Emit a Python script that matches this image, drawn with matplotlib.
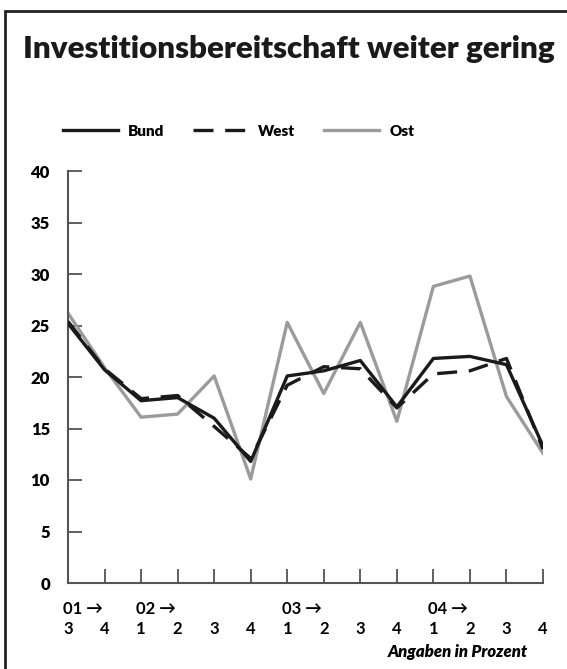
import matplotlib
matplotlib.use("Agg")
import matplotlib.pyplot as plt
from matplotlib.patches import Rectangle
import matplotlib.transforms as mtransforms

FONT = ["Lato", "DejaVu Sans"]
plt.rcParams["font.family"] = FONT

# data
quarters = ["3", "4", "1", "2", "3", "4", "1", "2", "3", "4", "1", "2", "3", "4"]
years = {0: "01 →", 2: "02 →", 6: "03 →", 10: "04 →"}
bund = [25.2, 20.7, 17.7, 18.0, 16.0, 11.8, 20.1, 20.6, 21.6, 17.1, 21.8, 22.0, 21.2, 13.3]
west = [25.4, 20.8, 17.9, 18.2, 15.2, 12.1, 19.2, 21.0, 20.8, 17.0, 20.3, 20.6, 21.8, 13.0]
ost = [26.2, 20.9, 16.1, 16.4, 20.1, 10.1, 25.3, 18.4, 25.3, 15.7, 28.8, 29.8, 18.1, 12.6]
yticks = [0, 5, 10, 15, 20, 25, 30, 35, 40]

x = list(range(len(quarters)))

fig = plt.figure(figsize=(5.67, 6.69), dpi=100)
ax = fig.add_axes([68 / 567, 86 / 669, 475 / 567, 412 / 669])

# frame around the figure
fig.patches.append(Rectangle((5 / 567, -0.05), 1.0, 1 - 11 / 669 + 0.05,
                             transform=fig.transFigure, fill=False,
                             edgecolor="#222222", linewidth=2.0))

title = fig.text(23 / 567, 1 - 58 / 669, "Investitionsbereitschaft weiter gering",
                 fontsize=30, fontweight="heavy", color="#1a1a1a",
                 va="baseline", ha="left")
# fit title width to the reference (about 529 px)
fig.canvas.draw()
w = title.get_window_extent().width
title.set_fontsize(30 * 529 / w)

ax.plot(x, ost, color="#9b9b9b", lw=2.4, label="Ost", zorder=2)
ax.plot(x, west, color="#1a1a1a", lw=2.4, dashes=(6, 3.5), label="West", zorder=3)
ax.plot(x, bund, color="#1a1a1a", lw=2.4, label="Bund", zorder=4)

ax.set_xlim(0, 13)
ax.set_ylim(0, 40)
ax.set_yticks(yticks)
ax.set_yticklabels([str(v) for v in yticks], fontweight="heavy", fontsize=12)
ax.set_xticks(x)
ax.set_xticklabels(quarters, fontweight="bold", fontsize=12)

for s in ["top", "right"]:
    ax.spines[s].set_visible(False)
for s in ["left", "bottom"]:
    ax.spines[s].set_color("#555555")
    ax.spines[s].set_linewidth(1.5)

ax.tick_params(axis="y", direction="in", length=10, width=1.2, color="#444444", pad=13)
ax.tick_params(axis="x", direction="in", length=10, width=1.2, color="#444444", pad=27)

trans = mtransforms.blended_transform_factory(ax.transData, fig.transFigure)
for i, lab in years.items():
    ax.text(i - 0.14, 1 - 614 / 669, lab, transform=trans, fontsize=12,
            fontweight="bold", ha="left", va="baseline")

fig.text(528 / 567, 1 - 657 / 669, "Angaben in Prozent", fontsize=12,
         fontweight="heavy", fontstyle="italic", ha="right", va="baseline")

handles, labels = ax.get_legend_handles_labels()
order = [2, 1, 0]
leg = fig.legend([handles[i] for i in order], [labels[i] for i in order],
                 loc="center left", bbox_to_anchor=(63 / 567, 1 - 131 / 669),
                 ncol=3, frameon=False, borderpad=0, borderaxespad=0,
                 handlelength=3.6, handletextpad=0.65, columnspacing=1.9,
                 prop={"weight": "heavy", "size": 11})

fig.savefig("out.png", dpi=100)
